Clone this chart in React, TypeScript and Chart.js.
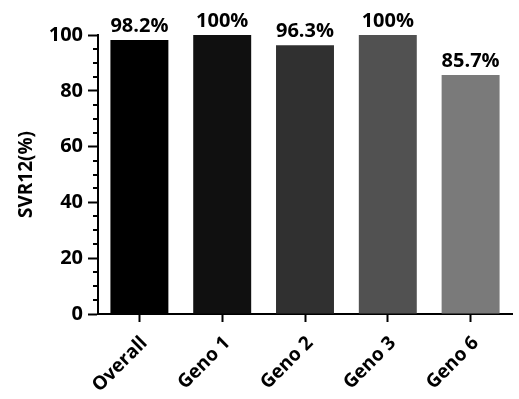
import React, { useEffect, useRef } from 'react';
import { Chart, registerables } from 'chart.js';

Chart.register(...registerables);

const categories = ['Overall', 'Geno 1', 'Geno 2', 'Geno 3', 'Geno 6'];
const svr12 = [98.2, 100, 96.3, 100, 85.7];
const valueLabels = ['98.2%', '100%', '96.3%', '100%', '85.7%'];
const barColors = ['#000000', '#101010', '#303030', '#515151', '#7a7a7a'];
const yMin = 0;
const yMax = 100;
const yMajorStep = 20;
const yMinorStep = 5;
const yTitle = 'SVR12(%)';

const FONT = '"Open Sans", "DejaVu Sans", sans-serif';

const minorTicksPlugin = {
  id: 'minorTicks',
  afterDraw(chart: any) {
    const y = chart.scales.y;
    const ctx = chart.ctx;
    ctx.save();
    ctx.strokeStyle = '#000';
    ctx.lineWidth = 2;
    for (let v = yMin; v <= yMax; v += yMinorStep) {
      if (v % yMajorStep === 0) continue;
      const py = Math.round(y.getPixelForValue(v));
      ctx.beginPath();
      ctx.moveTo(y.right - 5, py);
      ctx.lineTo(y.right, py);
      ctx.stroke();
    }
    ctx.restore();
  },
};

const valueLabelPlugin = {
  id: 'valueLabels',
  afterDatasetsDraw(chart: any) {
    const meta = chart.getDatasetMeta(0);
    const ctx = chart.ctx;
    ctx.save();
    ctx.font = `bold 20px ${FONT}`;
    ctx.fillStyle = '#000';
    ctx.textAlign = 'center';
    ctx.textBaseline = 'alphabetic';
    meta.data.forEach((el: any, i: number) => {
      ctx.fillText(valueLabels[i], el.x, el.y - 8);
    });
    ctx.restore();
  },
};

export default function App() {
  const ref = useRef<HTMLCanvasElement | null>(null);

  useEffect(() => {
    document.body.style.margin = '0';
    const canvas = ref.current;
    if (!canvas) return;
    const chart = new Chart(canvas, {
      type: 'bar',
      data: {
        labels: categories,
        datasets: [
          {
            data: svr12,
            backgroundColor: barColors,
            borderWidth: 0,
            barPercentage: 0.7,
            categoryPercentage: 1,
          },
        ],
      },
      options: {
        responsive: false,
        animation: false,
        layout: { padding: { top: 35, right: 7, left: 0, bottom: 0 } },
        plugins: {
          legend: { display: false },
          tooltip: { enabled: false },
        },
        scales: {
          x: {
            afterFit: (s: any) => {
              s.height = 85;
            },
            grid: {
              display: true,
              drawOnChartArea: false,
              drawTicks: true,
              offset: false,
              tickLength: 8,
              tickWidth: 2,
              tickColor: '#000',
            },
            border: { display: true, color: '#000', width: 2 },
            ticks: {
              color: '#000',
              font: { family: FONT, size: 19, weight: 'bold' },
              minRotation: 45,
              maxRotation: 45,
              padding: 10,
              labelOffset: 5,
              autoSkip: false,
            },
          },
          y: {
            min: yMin,
            max: yMax,
            afterFit: (s: any) => {
              s.width = 98;
            },
            grid: {
              display: true,
              drawOnChartArea: false,
              drawTicks: true,
              tickLength: 10,
              tickWidth: 2,
              tickColor: '#000',
            },
            border: { display: true, color: '#000', width: 2 },
            ticks: {
              stepSize: yMajorStep,
              color: '#000',
              font: { family: FONT, size: 20, weight: 'bold' },
              padding: 5,
            },
            title: {
              display: true,
              text: yTitle,
              color: '#000',
              font: { family: FONT, size: 19, weight: 'bold' },
              padding: { top: 15, bottom: 0 },
            },
          },
        },
      },
      plugins: [minorTicksPlugin, valueLabelPlugin],
    });
    return () => chart.destroy();
  }, []);

  return (
    <div style={{ width: 519, height: 399, background: '#fff' }}>
      <canvas ref={ref} width={519} height={399} />
    </div>
  );
}
